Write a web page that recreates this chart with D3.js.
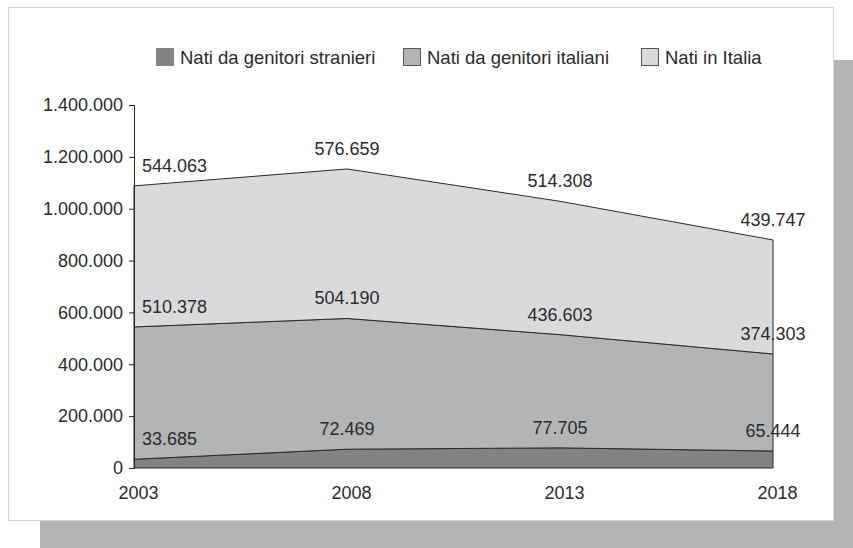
<!DOCTYPE html>
<html>
<head>
<meta charset="utf-8">
<script src="https://cdn.jsdelivr.net/npm/d3@7"></script>
<style>
  html, body { margin: 0; padding: 0; background: #ffffff; }
  svg { display: block; font-family: "Liberation Sans", Arial, sans-serif; }
</style>
</head>
<body>
<svg id="chart" width="853" height="548"></svg>
<script>
// ---- data ----
const years = ["2003", "2008", "2013", "2018"];
const seriesNames = ["Nati da genitori stranieri", "Nati da genitori italiani", "Nati in Italia"];
const natiStranieri = [33685, 72469, 77705, 65444];
const natiItaliani = [510378, 504190, 436603, 374303];
const natiInItalia = [544063, 576659, 514308, 439747];
const yTicks = [0, 200000, 400000, 600000, 800000, 1000000, 1200000, 1400000];

const colors = ["#838383", "#b3b4b6", "#d9dadc"];

const svg = d3.select("#chart");
const W = 853, H = 548;

// shadow + panel
svg.append("rect").attr("x", 40).attr("y", 60).attr("width", W - 40).attr("height", H - 60).attr("fill", "#b4b4b4");
svg.append("rect").attr("x", 8.5).attr("y", 7.5).attr("width", 825).attr("height", 513)
  .attr("fill", "#ffffff").attr("stroke", "#d6d6d6").attr("stroke-width", 1);

const locale = d3.formatLocale({ decimal: ",", thousands: ".", grouping: [3], currency: ["€", ""] });
const fmt = locale.format(",d");

const x = d3.scalePoint().domain(years).range([134, 773]);
const y = d3.scaleLinear().domain([0, 1400000]).range([468, 105]);

const table = years.map((yr, i) => ({
  year: yr,
  s0: natiStranieri[i],
  s1: natiItaliani[i],
  s2: natiInItalia[i]
}));
const stack = d3.stack().keys(["s0", "s1", "s2"]);
const layers = stack(table);

const area = d3.area()
  .x(d => x(d.data.year))
  .y0(d => y(d[0]))
  .y1(d => y(d[1]));

// draw from top layer to bottom so strokes look right
svg.append("g").selectAll("path")
  .data(layers)
  .join("path")
  .attr("d", area)
  .attr("fill", (d, i) => colors[i])
  .attr("stroke", "#2a2a2a")
  .attr("stroke-width", 1)
  .attr("stroke-linejoin", "round");

// y axis
const yAxis = d3.axisLeft(y).tickValues(yTicks).tickFormat(fmt).tickSize(5).tickPadding(6);
const gy = svg.append("g").attr("transform", "translate(134,0)").call(yAxis);
gy.selectAll("path, line").attr("stroke", "#222").attr("stroke-width", 1);
gy.selectAll("text").attr("font-size", 18).attr("fill", "#2b2b2b")
  .attr("font-family", "Liberation Sans, Arial, sans-serif");

// x axis labels
const xAxis = d3.axisBottom(x).tickSize(0).tickPadding(18);
const gx = svg.append("g").attr("transform", "translate(4,468)").call(xAxis);
gx.select(".domain").remove();
gx.selectAll("text").attr("font-size", 18).attr("fill", "#2b2b2b")
  .attr("font-family", "Liberation Sans, Arial, sans-serif");

// value labels
const values = [natiStranieri, natiItaliani, natiInItalia];
layers.forEach((layer, li) => {
  svg.append("g").selectAll("text")
    .data(layer)
    .join("text")
    .attr("x", (d, i) => i === 0 ? x(d.data.year) + 8 : x(d.data.year))
    .attr("y", d => y(d[1]) - 14)
    .attr("text-anchor", (d, i) => i === 0 ? "start" : "middle")
    .attr("font-size", 18)
    .attr("fill", "#2b2b2b")
    .text((d, i) => fmt(values[li][i]));
});

// legend
const legendX = [156, 403, 641];
const lg = svg.append("g");
seriesNames.forEach((name, i) => {
  lg.append("rect").attr("x", legendX[i] + 0.5).attr("y", 48.5).attr("width", 17).attr("height", 17)
    .attr("fill", colors[i]).attr("stroke", i === 0 ? colors[0] : "#555").attr("stroke-width", 1);
  lg.append("text").attr("x", legendX[i] + 24).attr("y", 64)
    .attr("font-size", 18.5).attr("fill", "#2b2b2b").text(name);
});
</script>
</body>
</html>
